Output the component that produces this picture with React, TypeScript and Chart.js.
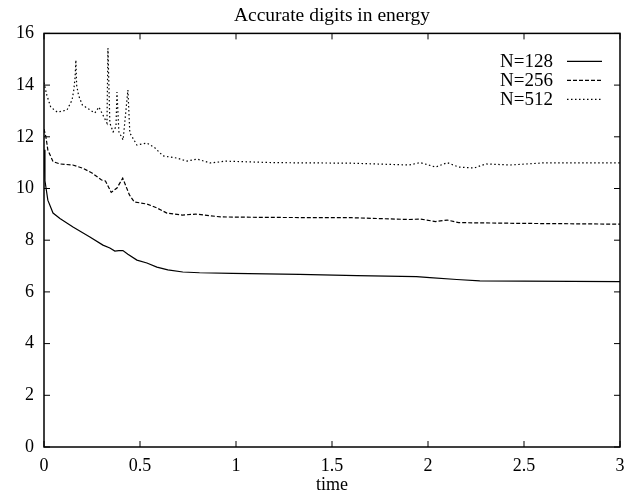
import React, { useEffect, useRef } from "react";
import { Chart, registerables } from "chart.js";

Chart.register(...registerables);

const chartTitle = "Accurate digits in energy";
const xTitle = "time";
const seriesLabels = ["N=128", "N=256", "N=512"];
const xMin = 0;
const xMax = 3;
const xStep = 0.5;
const yMin = 0;
const yMax = 16;
const yStep = 2;

const t128 = [0, 0.005, 0.02, 0.047, 0.083, 0.151, 0.239, 0.307, 0.343, 0.369, 0.39, 0.411, 0.437, 0.484, 0.536, 0.588, 0.645, 0.723, 0.81, 0.98, 1.33, 1.63, 1.94, 2.01, 2.15, 2.27, 2.5, 2.75, 3.0];
const v128 = [11.5, 10.3, 9.55, 9.05, 8.84, 8.51, 8.12, 7.81, 7.7, 7.58, 7.6, 7.6, 7.46, 7.23, 7.12, 6.96, 6.85, 6.77, 6.74, 6.72, 6.68, 6.63, 6.59, 6.55, 6.48, 6.43, 6.42, 6.41, 6.4];

const t256 = [0, 0.01, 0.02, 0.047, 0.083, 0.15, 0.2, 0.25, 0.3, 0.32, 0.35, 0.38, 0.41, 0.445, 0.47, 0.536, 0.588, 0.64, 0.72, 0.79, 0.92, 1.2, 1.6, 1.9, 1.96, 2.04, 2.1, 2.16, 2.5, 3.0];
const v256 = [12.3, 12.0, 11.49, 11.04, 10.95, 10.91, 10.79, 10.6, 10.33, 10.29, 9.85, 10.02, 10.4, 9.75, 9.48, 9.4, 9.25, 9.05, 8.97, 9.01, 8.9, 8.88, 8.87, 8.8, 8.82, 8.72, 8.78, 8.68, 8.65, 8.62];

const t512 = [0, 0.015, 0.035, 0.07, 0.12, 0.146, 0.155, 0.162, 0.166, 0.17, 0.18, 0.2, 0.265, 0.286, 0.307, 0.328, 0.333, 0.343, 0.36, 0.375, 0.38, 0.39, 0.412, 0.437, 0.447, 0.484, 0.536, 0.578, 0.62, 0.69, 0.745, 0.797, 0.864, 0.92, 0.94, 1.2, 1.6, 1.9, 1.96, 2.04, 2.1, 2.16, 2.24, 2.3, 2.43, 2.6, 3.0];
const v512 = [14.1, 13.6, 13.15, 12.95, 13.04, 13.42, 13.8, 14.3, 14.97, 14.0, 13.6, 13.23, 12.92, 13.15, 12.84, 12.53, 15.43, 12.53, 12.19, 12.4, 13.73, 12.19, 11.88, 13.81, 12.15, 11.68, 11.76, 11.57, 11.26, 11.18, 11.06, 11.14, 10.99, 11.03, 11.06, 11.0, 10.98, 10.91, 11.0, 10.83, 11.0, 10.83, 10.79, 10.95, 10.91, 10.99, 10.99];

const seriesT = [t128, t256, t512];
const seriesV = [v128, v256, v512];
const seriesDash = [[], [4, 2], [1.5, 2.5]];

const FONT = "'Liberation Serif', 'Times New Roman', serif";

const framePlugin = {
  id: "frameAndLegend",
  afterDatasetsDraw(chart: any) {
    const { ctx, chartArea: a, scales } = chart;
    const line = (x1: number, y1: number, x2: number, y2: number) => {
      ctx.beginPath();
      ctx.moveTo(x1, y1);
      ctx.lineTo(x2, y2);
      ctx.stroke();
    };
    ctx.save();
    ctx.strokeStyle = "#000";
    ctx.setLineDash([]);
    ctx.lineWidth = 1.5;
    ctx.strokeRect(a.left, a.top, a.right - a.left, a.bottom - a.top);
    ctx.lineWidth = 1;
    const L = 6;
    scales.x.ticks.forEach((tk: any) => {
      const px = scales.x.getPixelForValue(tk.value);
      line(px, a.bottom, px, a.bottom - L);
      line(px, a.top, px, a.top + L);
    });
    scales.y.ticks.forEach((tk: any) => {
      const py = scales.y.getPixelForValue(tk.value);
      line(a.left, py, a.left + L, py);
      line(a.right, py, a.right - L, py);
    });
    ctx.font = "19px " + FONT;
    ctx.fillStyle = "#000";
    ctx.textAlign = "right";
    ctx.textBaseline = "middle";
    chart.data.datasets.forEach((ds: any, i: number) => {
      const y = a.top + 28 + i * 19;
      ctx.fillText(ds.label, a.right - 67, y + 1);
      ctx.setLineDash(ds.borderDash || []);
      ctx.lineWidth = 1.2;
      line(a.right - 53, y, a.right - 18, y);
    });
    ctx.restore();
  },
};

export default function App() {
  const ref = useRef<HTMLCanvasElement | null>(null);
  useEffect(() => {
    if (!ref.current) return;
    const datasets = seriesLabels.map((label, i) => ({
      label,
      data: seriesT[i].map((t, j) => ({ x: t, y: seriesV[i][j] })),
      borderColor: "#000",
      borderWidth: 1.2,
      borderDash: seriesDash[i],
      pointRadius: 0,
      tension: 0,
      fill: false,
    }));
    const chart = new Chart(ref.current, {
      type: "line",
      data: { datasets },
      plugins: [framePlugin],
      options: {
        animation: false,
        responsive: true,
        maintainAspectRatio: false,
        layout: { padding: { left: 0, right: 17, top: 0, bottom: 0 } },
        plugins: {
          legend: { display: false },
          tooltip: { enabled: false },
          title: {
            display: true,
            fullSize: false,
            text: chartTitle,
            color: "#000",
            font: { family: FONT, size: 19.5, weight: "normal" },
            padding: { top: 4, bottom: 6 },
          },
        },
        scales: {
          x: {
            type: "linear",
            min: xMin,
            max: xMax,
            ticks: {
              stepSize: xStep,
              color: "#000",
              font: { family: FONT, size: 18 },
              padding: 8,
              maxRotation: 0,
              callback: (v: any) => String(v),
            },
            grid: { display: false, drawTicks: false },
            border: { display: false },
            title: {
              display: true,
              text: xTitle,
              color: "#000",
              font: { family: FONT, size: 18 },
              padding: { top: 0, bottom: 0 },
            },
            afterFit: (s: any) => {
              s.height = 49;
            },
          },
          y: {
            type: "linear",
            min: yMin,
            max: yMax,
            ticks: {
              stepSize: yStep,
              color: "#000",
              font: { family: FONT, size: 18 },
              padding: 10,
              callback: (v: any) => String(v),
            },
            grid: { display: false, drawTicks: false },
            border: { display: false },
            afterFit: (s: any) => {
              s.width = 44;
            },
          },
        },
      } as any,
    });
    return () => chart.destroy();
  }, []);
  return (
    <div style={{ position: "absolute", left: 0, top: 0, width: 637, height: 496, background: "#fff" }}>
      <canvas ref={ref} />
    </div>
  );
}
